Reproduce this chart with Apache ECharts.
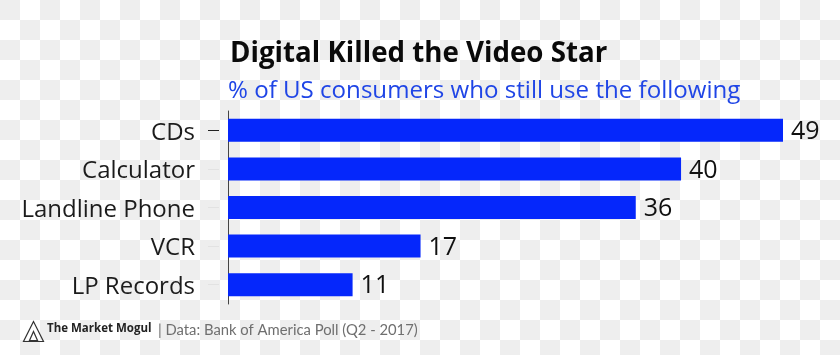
<!DOCTYPE html>
<html><head><meta charset="utf-8">
<script src="https://cdn.jsdelivr.net/npm/echarts@6/dist/echarts.min.js"></script>
<style>
html,body{margin:0;padding:0;width:840px;height:355px;overflow:hidden;
background:repeating-conic-gradient(#fff 0 25%,#eeeeee 0 50%) 0 0/40px 40px;}
#c{width:840px;height:355px;}
</style></head><body><div id="c"></div>
<script>
const categories = ['CDs','Calculator','Landline Phone','VCR','LP Records'];
const values = [49,40,36,17,11];
const titleText = 'Digital Killed the Video Star';
const subtitleText = '% of US consumers who still use the following';
const brandText = 'The Market Mogul';
const sourceText = '| Data: Bank of America Poll (Q2 - 2017)';

const chart = echarts.init(document.getElementById('c'), null, {renderer:'canvas'});
const baseY = {type:'category', data:categories, inverse:true, position:'left'};
chart.setOption({
  backgroundColor:'transparent',
  animation:false,
  title:[
    {text:titleText,left:225,top:35,textStyle:{fontFamily:'Open Sans',fontWeight:700,fontSize:27.7,color:'#0a0a0a'}},
    {text:subtitleText,left:223,top:74,textStyle:{fontFamily:'Open Sans',fontWeight:400,fontSize:24.1,color:'#1f45e6'}}
  ],
  grid:{left:228,top:111,width:555,height:193},
  xAxis:{type:'value',min:0,max:49,show:false},
  yAxis:[
    Object.assign({},baseY,{axisLine:{show:true,lineStyle:{color:'#444',width:1}},axisTick:{show:false},axisLabel:{show:false}}),
    Object.assign({},baseY,{offset:9,axisLine:{show:false},
      axisTick:{show:true,alignWithLabel:true,length:11,lineStyle:{color:'#e2e2e2',width:1}},
      axisLabel:{show:true,margin:24,formatter:v=>'{a|'+v+'}',
        rich:{a:{padding:[5,0,0,0],fontFamily:'Open Sans',fontSize:24,color:'#1c1c1c'}}}}),
    Object.assign({},baseY,{offset:9,axisLine:{show:false},
      axisTick:{show:true,alignWithLabel:true,length:11,customValues:[0],lineStyle:{color:'#222',width:1}},
      axisLabel:{show:false}})
  ],
  series:[{type:'bar',yAxisIndex:0,data:values,barWidth:23,
    itemStyle:{color:'#0527fb'},
    label:{show:true,position:'right',distance:8,offset:[0,1.5],fontFamily:'Open Sans',fontSize:25,color:'#111'}}],
  graphic:[
    {type:'text',left:47,top:323,style:{text:brandText,font:'700 11.5px "Open Sans"',fill:'#222'}},
    {type:'text',left:158,top:323,style:{text:sourceText,font:'400 14.8px Lato',fill:'#6f6f6f'}},
    {type:'polygon',left:21,top:319,shape:{points:[[10,0],[0,20],[20,20]]},style:{fill:'none',stroke:'#333',lineWidth:1.2}},
    {type:'polygon',left:27,top:329,shape:{points:[[4,0],[0,9],[8,9]]},style:{fill:'none',stroke:'#333',lineWidth:1.2}}
  ]
});
</script></body></html>
